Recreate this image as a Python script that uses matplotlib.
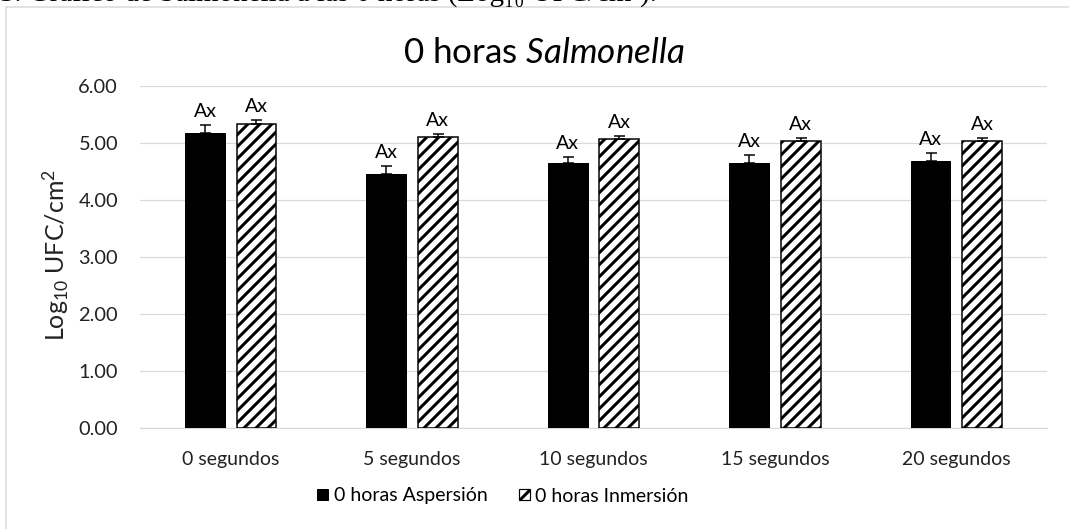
import matplotlib.pyplot as plt
from matplotlib.patches import Rectangle, Patch
import numpy as np

plt.rcParams['font.family'] = ['Lato', 'DejaVu Sans']
plt.rcParams['mathtext.fontset'] = 'custom'
plt.rcParams['mathtext.rm'] = 'Lato'
plt.rcParams['mathtext.it'] = 'Lato:italic'
plt.rcParams['hatch.linewidth'] = 3.0

# datos
categorias = ['0 segundos', '5 segundos', '10 segundos', '15 segundos', '20 segundos']
aspersion = [5.18, 4.46, 4.65, 4.65, 4.68]
aspersion_err = [0.14, 0.14, 0.11, 0.14, 0.14]
inmersion = [5.34, 5.11, 5.07, 5.03, 5.03]
inmersion_err = [0.07, 0.05, 0.05, 0.06, 0.06]
etiquetas_asp = ['Ax'] * 5
etiquetas_inm = ['Ax'] * 5

W, H, DPI = 1069, 529, 72
fig = plt.figure(figsize=(W / DPI, H / DPI), dpi=DPI)
ax = fig.add_axes([140 / W, 1 - 428 / H, (1047 - 140) / W, (428 - 86) / H])

x = np.arange(len(categorias))
ancho = 0.22
off = 0.142

ax.bar(x - off, aspersion, ancho, color='black', edgecolor='black', zorder=3)
ax.bar(x + off, inmersion, ancho, color='white', edgecolor='black', linewidth=1.5,
       hatch='//', zorder=3)
ax.errorbar(x - off, aspersion, yerr=[[0] * 5, aspersion_err], fmt='none', ecolor='black',
            elinewidth=1.5, capsize=5.5, capthick=1.5, zorder=4)
ax.errorbar(x + off, inmersion, yerr=[[0] * 5, inmersion_err], fmt='none', ecolor='black',
            elinewidth=1.5, capsize=5.5, capthick=1.5, zorder=4)

for xi, v, e, t in zip(x - off, aspersion, aspersion_err, etiquetas_asp):
    ax.annotate(t, (xi, v + e), xytext=(0, 5), textcoords='offset points',
                ha='center', va='bottom', fontsize=19.5)
for xi, v, e, t in zip(x + off, inmersion, inmersion_err, etiquetas_inm):
    ax.annotate(t, (xi, v + e), xytext=(0, 5), textcoords='offset points',
                ha='center', va='bottom', fontsize=19.5)

ax.set_xlim(-0.5, len(categorias) - 0.5)
ax.set_ylim(0, 6)
ax.set_yticks(np.arange(0, 7, 1))
ax.set_yticklabels([f'{v:.2f}' for v in np.arange(0, 7, 1)])
ax.set_xticks(x)
ax.set_xticklabels(categorias)
ax.tick_params(axis='both', length=0, colors='#222222')
ax.tick_params(axis='y', pad=22, labelsize=20)
ax.tick_params(axis='x', pad=23, labelsize=19.5)
ax.yaxis.grid(True, color='#d9d9d9', linewidth=1.2, zorder=0)
ax.set_axisbelow(True)
for s in ['top', 'right', 'left']:
    ax.spines[s].set_visible(False)
ax.spines['bottom'].set_color('#d9d9d9')
ax.spines['bottom'].set_linewidth(1.2)

# titulo y eje y centrados en el area del grafico (como en Excel)
fig.text(56 / W, 1 - 255 / H, r'Log$_{10}$ UFC/cm$^{2}$', fontsize=25, rotation=90,
         ha='center', va='center', color='#222222')
fig.text(544 / W, 1 - 63 / H, r'0 horas $\mathit{Salmonella}$', fontsize=35,
         ha='center', va='baseline')

handles = [Patch(facecolor='black', edgecolor='black'),
           Patch(facecolor='white', edgecolor='black', hatch='//', linewidth=1.2)]
fig.legend(handles, ['0 horas Aspersión', '0 horas Inmersión'], loc='center',
           bbox_to_anchor=(503 / W, 1 - 496 / H), ncol=2, frameon=False, fontsize=19.5,
           handlelength=0.55, handleheight=0.55, handletextpad=0.3, columnspacing=1.6)

# marco exterior del grafico
fig.patches.append(Rectangle((6 / W, -0.05), 1.1, 1 - 7 / H + 0.05, transform=fig.transFigure,
                             fill=False, edgecolor='#d9d9d9', linewidth=1.5))

# pie de figura del documento, cortado arriba
fig.text(0 / W, 1 - 7 / H, '3. Gráfico de Salmonella a las 0 horas (Log₁₀ UFC/cm²).',
         family=['Liberation Serif', 'DejaVu Serif'], fontsize=29, va='bottom', ha='left')

fig.savefig('out.png', dpi=DPI)
